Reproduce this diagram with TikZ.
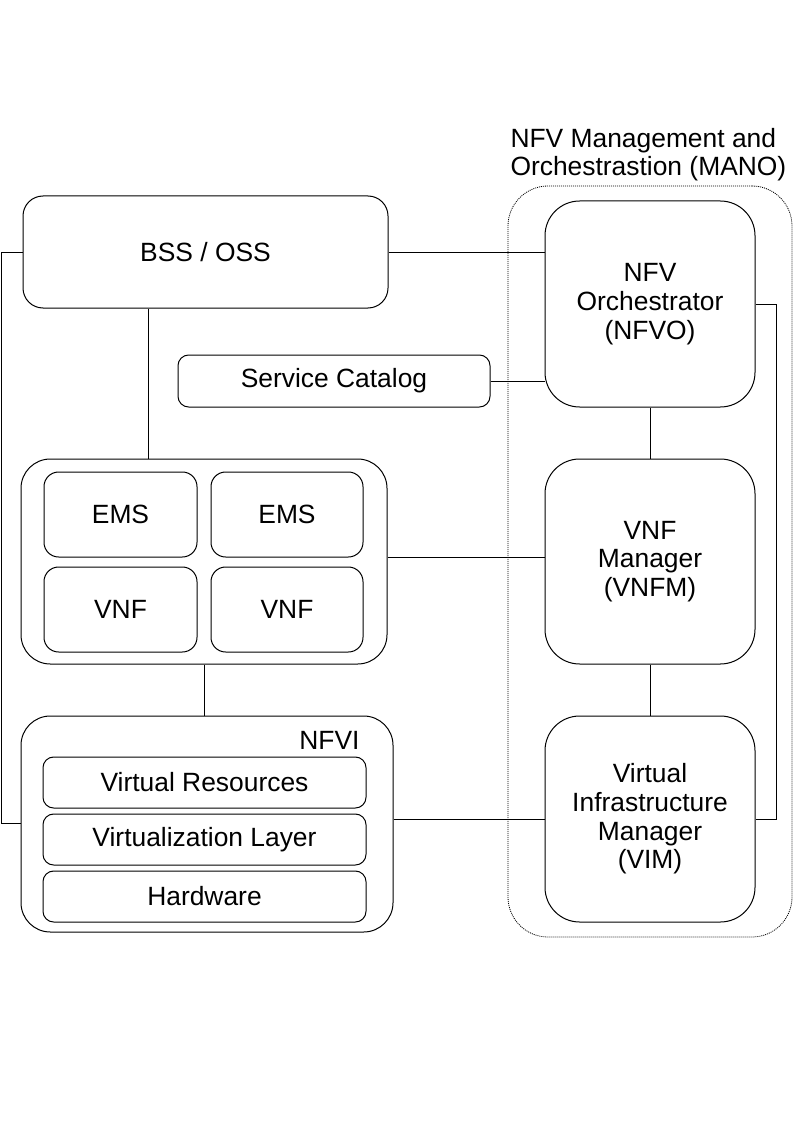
\documentclass[tikz,border=0pt]{standalone}
\usepackage{fontspec}
\setmainfont{Liberation Sans}
\begin{document}
\begin{tikzpicture}[x=0.75pt,y=-0.75pt,line width=0.75pt,
  txt/.style={font=\fontsize{19.8}{21.5}\selectfont},
  box/.style={draw, inner sep=0pt, align=center, txt},
  sz/.style 2 args={minimum width={#1*0.75pt}, minimum height={#2*0.75pt}},
  mano/.style={draw, line width=0.6pt, dash pattern=on 0.75pt off 0.75pt, rounded corners=30pt}]
\useasboundingbox (0,0) rectangle (794,1123);
% MANO frame
\node[mano, inner sep=0pt, sz={284}{751}] (manobox) at (650,561.5) {};
\node[txt, anchor=base west, inner sep=0pt, align=left] (manolabel) at (510,176) {NFV Management and\\Orchestrastion (MANO)};
% left side
\node[box, rounded corners=15pt, sz={365}{112}] (bss) at (205.5,252) {BSS / OSS};
\node[box, rounded corners=8pt, sz={312}{52}] (sc) at (334,381) {Service Catalog};
\node[box, rounded corners=22pt, sz={366}{205}] (grp) at (204,561.5) {};
\node[box, rounded corners=11pt, sz={153}{85}] (ems1) at (120.5,514.5) {EMS};
\node[box, rounded corners=11pt, sz={152}{85}] (ems2) at (287,514.5) {EMS};
\node[box, rounded corners=11pt, sz={153}{85}] (vnf1) at (120.5,609.5) {VNF};
\node[box, rounded corners=11pt, sz={152}{85}] (vnf2) at (287,609.5) {VNF};
\node[box, rounded corners=22pt, sz={372}{216}] (nfvi) at (207,824) {};
\node[txt, anchor=base east, inner sep=0pt] (nfvilabel) at (360,749) {NFVI};
\node[box, rounded corners=8pt, sz={323}{51}] (vr) at (204.5,782.5) {Virtual Resources};
\node[box, rounded corners=8pt, sz={323}{51}] (vl) at (204.5,839.5) {Virtualization Layer};
\node[box, rounded corners=8pt, sz={323}{51}] (hw) at (204.5,896.5) {Hardware};
% MANO blocks
\node[box, rounded corners=26pt, sz={210}{206}] (nfvo) at (650,304) {NFV\\Orchestrator\\(NFVO)};
\node[box, rounded corners=26pt, sz={210}{205}] (vnfm) at (650,561.5) {VNF\\Manager\\(VNFM)};
\node[box, rounded corners=26pt, sz={210}{206}] (vim) at (650,819) {Virtual\\Infrastructure\\Manager\\(VIM)};
% helper coordinates
\coordinate (lx) at (1,823);
\coordinate (rx) at (776,0);
\coordinate (bx) at (148,0);
\coordinate (gy) at (0,557);
% connectors
\draw (bss.east) -- (bss.east -| nfvo.west);
\draw (sc.east) -- (sc.east -| nfvo.west);
\draw (bss.west) -- (bss.west -| lx) -- (lx) -- (lx -| nfvi.west);
\draw (bx |- bss.south) -- (bx |- grp.north);
\draw (grp.east |- gy) -- (vnfm.west |- gy);
\draw (grp.south) -- (grp.south |- nfvi.north);
\draw (nfvi.east |- vim.west) -- (vim.west);
\draw (nfvo) -- (vnfm);
\draw (vnfm) -- (vim);
\draw (nfvo.east) -- (nfvo.east -| rx) |- (vim.east);
\end{tikzpicture}
\end{document}
